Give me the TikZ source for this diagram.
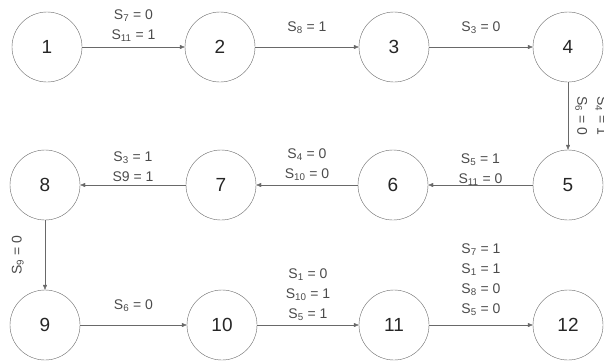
\documentclass[tikz,border=0pt]{standalone}
\usepackage{fontspec}
\setmainfont{Liberation Sans}
\usetikzlibrary{arrows.meta, positioning}
\definecolor{cLine}{RGB}{105,105,105}
\definecolor{cText}{RGB}{75,75,75}
\newcommand{\swc}[2]{S\textsubscript{#1} = #2}
\tikzset{
	state/.style ={circle, draw=cLine, minimum size=70pt, inner sep=0pt, font=\fontsize{19}{22}\selectfont, text=black!85},
	trans/.style ={-{Triangle[length=5pt,width=4pt]}, draw=cLine, thin},
	cond/.style  ={font=\fontsize{14}{20}\selectfont, text=cText, align=center, inner sep=1pt, anchor=south},
}

\begin{document}
\begin{tikzpicture}[x=1pt, y=1pt]
	\useasboundingbox (0,0) rectangle (604,360);
	% states, row by row
	\node[state] (s1)  at (47,313)  {1};
	\node[state] (s2)  at (220,313) {2};
	\node[state] (s3)  at (394,313) {3};
	\node[state] (s4)  at (568,313) {4};
	\node[state] (s8)  at (45,175)  {8};
	\node[state] (s7)  at (221,175) {7};
	\node[state] (s6)  at (393,175) {6};
	\node[state] (s5)  at (568,175) {5};
	\node[state] (s9)  at (45,35)   {9};
	\node[state] (s10) at (222,35)  {10};
	\node[state] (s11) at (394,35)  {11};
	\node[state] (s12) at (568,35)  {12};
	% transitions
	\draw[trans] (s1) -- (s2) node[cond, midway, yshift=4pt] {\swc{7}{0}\\\swc{11}{1}};
	\draw[trans] (s2) -- (s3) node[cond, midway, yshift=12pt] {\swc{8}{1}};
	\draw[trans] (s3) -- (s4) node[cond, midway, yshift=12pt] {\swc{3}{0}};
	\draw[trans] (s4) -- (s5) node[cond, midway, xshift=6pt, rotate=-90] {\swc{4}{1}\\\swc{6}{0}};
	\draw[trans] (s5) -- (s6) node[cond, midway, yshift=-2pt] {\swc{5}{1}\\\swc{11}{0}};
	\draw[trans] (s6) -- (s7) node[cond, midway, yshift=3pt] {\swc{4}{0}\\\swc{10}{0}};
	\draw[trans] (s7) -- (s8) node[cond, midway, yshift=2pt] {\swc{3}{1}\\S9 = 1};
	\draw[trans] (s8) -- (s9) node[cond, midway, xshift=-20pt, rotate=90] {\swc{9}{0}};
	\draw[trans] (s9) -- (s10) node[cond, midway, yshift=12pt] {\swc{6}{0}};
	\draw[trans] (s10) -- (s11) node[cond, midway, yshift=3pt] {\swc{1}{0}\\\swc{10}{1}\\\swc{5}{1}};
	\draw[trans] (s11) -- (s12) node[cond, midway, yshift=8pt] {\swc{7}{1}\\\swc{1}{1}\\\swc{8}{0}\\\swc{5}{0}};
\end{tikzpicture}
\end{document}
